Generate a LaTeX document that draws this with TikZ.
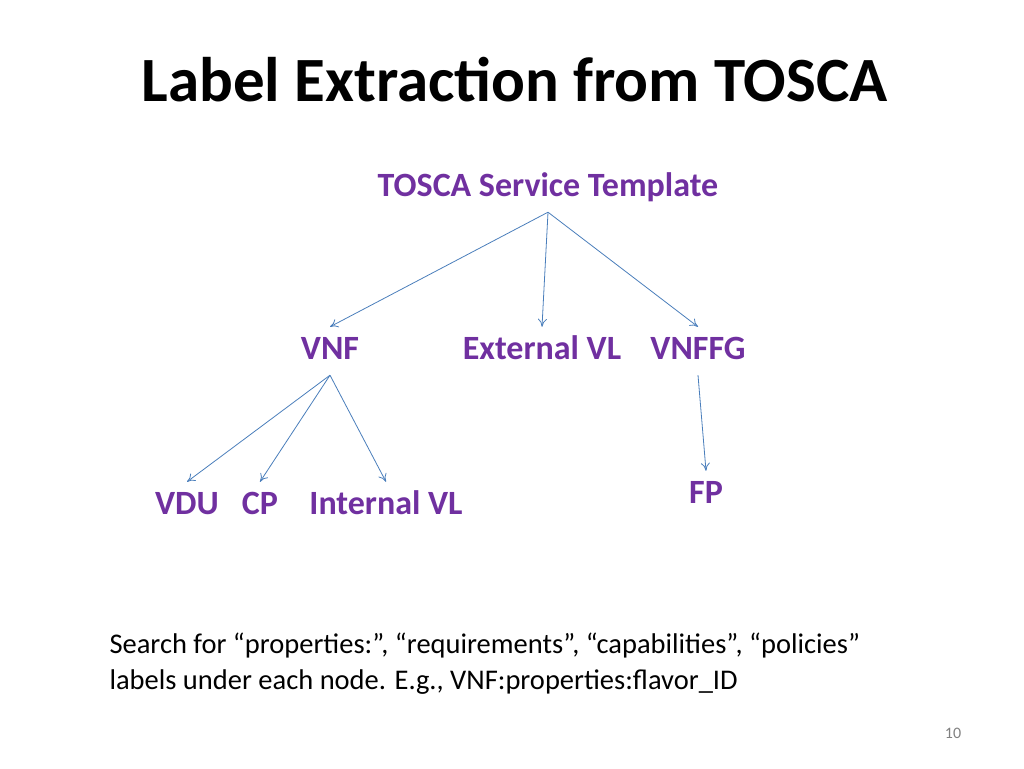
\documentclass[tikz,border=0pt]{standalone}
\usepackage{fontspec}
\setmainfont{Carlito}
\usetikzlibrary{positioning,arrows.meta}
\definecolor{lblpurple}{HTML}{7030A0}
\definecolor{arrblue}{HTML}{4A7EBB}
\tikzset{
  lbl/.style={text=lblpurple, font=\fontsize{34}{38}\selectfont\bfseries, text height=22pt, text depth=6pt, inner ysep=10pt, inner xsep=2pt},
  arr/.style={draw=arrblue, line width=0.8pt, -{To[length=8pt,width=9pt]}}
}
\begin{document}
\begin{tikzpicture}[x=1pt, y=-1pt]
    \useasboundingbox (0,0) rectangle (1024,768);
    \node [anchor=west, font=\fontsize{63}{70}\selectfont\bfseries] (title) at (138,80) {Label Extraction from TOSCA};
    % tree labels
    \node [lbl] (tst) at (548,188) {TOSCA Service Template};
    \node [lbl] (vnf) at (330,351) {VNF};
    \node [lbl] (evl) at (542,351) {External VL};
    \node [lbl] (vnffg) at (698,351) {VNFFG};
    \node [lbl] (vdu) at (187,506) {VDU};
    \node [lbl] (cp) at (260,506) {CP};
    \node [lbl] (ivl) at (386,506) {Internal VL};
    \node [lbl] (fp) at (706,495) {FP};
    % arrows
    \draw[arr] (tst.south) -- (vnf.north);
    \draw[arr] (tst.south) -- (evl.north);
    \draw[arr] (tst.south) -- (vnffg.north);
    \draw[arr] (vnf.south) -- (vdu.north);
    \draw[arr] (vnf.south) -- (cp.north);
    \draw[arr] (vnf.south) -- (ivl.north);
    \draw[arr] (vnffg.south) -- (fp.north);
    % text
    \node [anchor=west, align=left, font=\fontsize{28.5}{36}\selectfont] (note) at (106,664)
      {Search for “properties:”, “requirements”, “capabilities”, “policies”\\labels under each node. E.g., VNF:properties:flavor\_ID};
    \node [text=gray, font=\fontsize{16}{18}\selectfont] (page) at (953,733) {10};
\end{tikzpicture}
\end{document}
